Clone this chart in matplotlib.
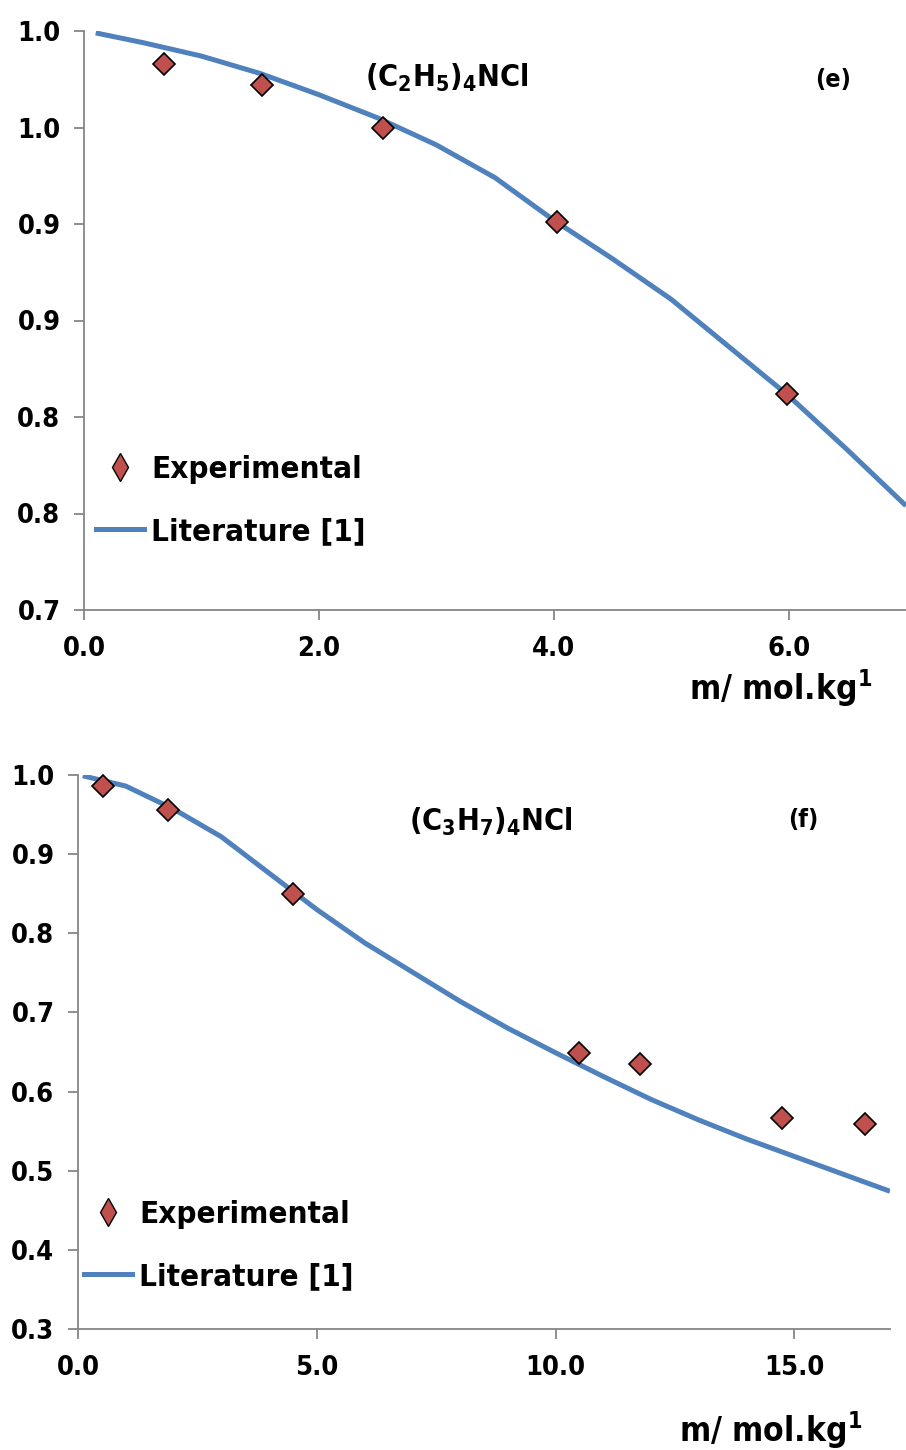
import matplotlib
matplotlib.use("Agg")
import matplotlib.pyplot as plt
from matplotlib.lines import Line2D
from matplotlib.ticker import FuncFormatter

plt.rcParams['font.family'] = ['DejaVu Sans']
plt.rcParams['font.weight'] = 'bold'
plt.rcParams['font.stretch'] = 'condensed'
plt.rcParams['mathtext.fontset'] = 'dejavusans'

# (C2H5)4NCl
et_exp_m = [0.68, 1.52, 2.55, 4.03, 5.99]
et_exp_phi = [0.983, 0.972, 0.950, 0.901, 0.812]
et_lit_m = [0.1, 0.5, 1.0, 1.5, 2.0, 2.5, 3.0, 3.5, 4.0, 4.5, 5.0, 5.5, 6.0, 6.5, 7.0]
et_lit_phi = [0.999, 0.994, 0.987, 0.978, 0.967, 0.955, 0.941, 0.924, 0.902, 0.882,
              0.861, 0.836, 0.811, 0.783, 0.754]
et_yticks = [0.70, 0.75, 0.80, 0.85, 0.90, 0.95, 1.00]
et_xticks = [0.0, 2.0, 4.0, 6.0]

# (C3H7)4NCl
pr_exp_m = [0.52, 1.89, 4.50, 10.48, 11.76, 14.73, 16.47]
pr_exp_phi = [0.986, 0.956, 0.850, 0.649, 0.635, 0.566, 0.559]
pr_lit_m = [0.1, 1.0, 2.0, 3.0, 4.0, 5.0, 6.0, 7.0, 8.0, 9.0, 10.0, 11.0, 12.0,
            13.0, 14.0, 15.0, 16.0, 17.0]
pr_lit_phi = [0.999, 0.986, 0.957, 0.922, 0.876, 0.830, 0.788, 0.751, 0.714, 0.680,
              0.649, 0.619, 0.590, 0.564, 0.540, 0.518, 0.496, 0.474]
pr_yticks = [0.3, 0.4, 0.5, 0.6, 0.7, 0.8, 0.9, 1.0]
pr_xticks = [0.0, 5.0, 10.0, 15.0]

labels = ['Experimental', 'Literature [1]']
RED = '#C0504D'
BLUE = '#4F81BD'
GREY = '#868686'
W, H = 906, 1450


def one_decimal(v, pos):
    # round half up like a spreadsheet does
    return '%.1f' % (int(v * 10 + 0.5 + 1e-9) / 10)


def px(x, y):
    return x / W, 1 - y / H


def panel(ax, exp_m, exp_phi, lit_m, lit_phi, xticks, yticks, xlim, legend_at):
    ax.plot(lit_m, lit_phi, color=BLUE, lw=3.6, solid_capstyle='butt')
    ax.plot(exp_m, exp_phi, ls='none', marker='D', ms=11.5, mfc=RED, mec='black',
            mew=1.2, clip_on=False)
    ax.set_xlim(*xlim)
    ax.set_ylim(yticks[0], yticks[-1])
    ax.set_xticks(xticks)
    ax.set_yticks(yticks)
    ax.xaxis.set_major_formatter(FuncFormatter(one_decimal))
    ax.yaxis.set_major_formatter(FuncFormatter(one_decimal))
    for s in ['top', 'right']:
        ax.spines[s].set_visible(False)
    for s in ['left', 'bottom']:
        ax.spines[s].set_color(GREY)
        ax.spines[s].set_linewidth(1.3)
    ax.tick_params(axis='both', direction='out', color=GREY, width=1.3, length=7,
                   labelsize=19.5)
    ax.tick_params(axis='y', pad=10)
    ax.tick_params(axis='x', pad=12)
    handles = [Line2D([], [], ls='none', marker='d', ms=14, mfc=RED, mec='black', mew=1),
               Line2D([], [], color=BLUE, lw=3.6)]
    ax.legend(handles, labels, loc='upper left', bbox_to_anchor=px(*legend_at),
              bbox_transform=ax.figure.transFigure, frameon=False, fontsize=22.5,
              handlelength=1.55, handletextpad=0.22, labelspacing=1.05,
              borderpad=0, borderaxespad=0)


fig = plt.figure(figsize=(W / 100, H / 100), dpi=100)

ax1 = fig.add_axes([84 / W, 1 - 610 / H, (W - 84) / W, 579 / H])
panel(ax1, et_exp_m, et_exp_phi, et_lit_m, et_lit_phi, et_xticks, et_yticks, (0, 7.0),
      (96, 455))
fig.text(*px(447, 78), r'$\mathbf{(C_2H_5)_4NCl}$', fontsize=22, ha='center', va='center')
fig.text(*px(833, 80), '(e)', fontsize=18, ha='center', va='center')
fig.text(*px(872, 688), r'm/ mol.kg$^{\mathbf{1}}$', fontsize=24, ha='right', va='center')

ax2 = fig.add_axes([78 / W, 1 - 1329 / H, (890 - 78) / W, 554 / H])
panel(ax2, pr_exp_m, pr_exp_phi, pr_lit_m, pr_lit_phi, pr_xticks, pr_yticks, (0, 17.0),
      (84, 1200))
fig.text(*px(491, 822), r'$\mathbf{(C_3H_7)_4NCl}$', fontsize=22, ha='center', va='center')
fig.text(*px(803, 820), '(f)', fontsize=18, ha='center', va='center')
fig.text(*px(862, 1430), r'm/ mol.kg$^{\mathbf{1}}$', fontsize=24, ha='right', va='center')

fig.savefig('out.png', dpi=100)
